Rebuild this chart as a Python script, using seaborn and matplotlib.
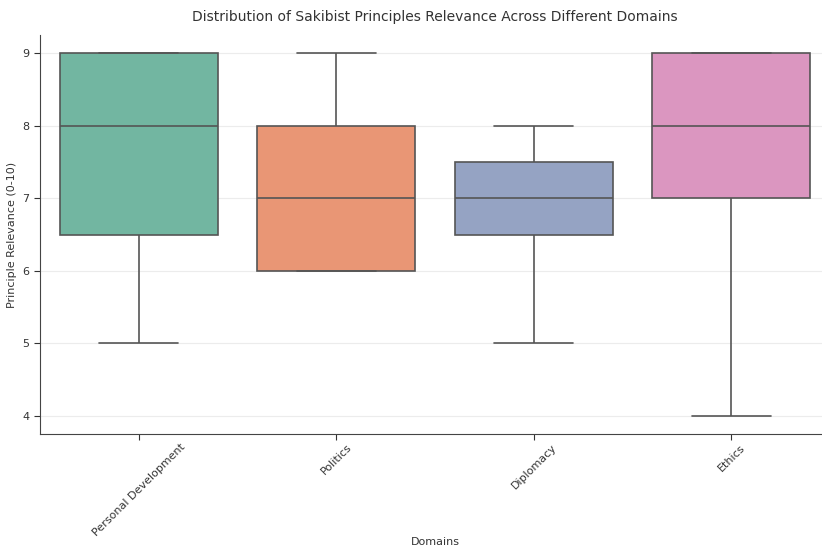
import numpy as np
import pandas as pd
import matplotlib
matplotlib.use("Agg")
import matplotlib.pyplot as plt
import seaborn as sns

domains = ["Personal Development", "Politics", "Diplomacy", "Ethics"]
personal_development = [5, 6, 7, 8, 9, 9, 9]
politics = [6, 6, 7, 8, 9]
diplomacy = [5, 6, 7, 7, 7, 8, 8]
ethics = [4, 7, 8, 9, 9]

series = [personal_development, politics, diplomacy, ethics]
df = pd.DataFrame({
    "Domains": [d for d, vals in zip(domains, series) for _ in vals],
    "Principle Relevance (0-10)": [v for vals in series for v in vals],
})

sns.set_style("ticks")
plt.rcParams["font.family"] = ["DejaVu Sans"]

fig = plt.figure(figsize=(8.22, 5.52), dpi=100)
ax = fig.add_axes([40 / 822, 1 - 434 / 552, 790 / 822, 399 / 552])

sns.boxplot(data=df, x="Domains", y="Principle Relevance (0-10)", hue="Domains",
            palette="Set2", legend=False, ax=ax, linecolor="#555555", linewidth=1.2)

ax.set_ylim(3.75, 9.25)
ax.set_xlim(-0.5, 3.5)
ax.yaxis.grid(True, color="#ececec", linewidth=0.8)
ax.set_axisbelow(True)
sns.despine(ax=ax)
for s in ["left", "bottom"]:
    ax.spines[s].set_color("#444444")
ax.tick_params(axis="both", labelsize=8, colors="#333333", length=4)
ax.tick_params(axis="x", pad=2)
plt.setp(ax.get_xticklabels(), rotation=45)
ax.set_title("Distribution of Sakibist Principles Relevance Across Different Domains",
             fontsize=10, color="#333333", pad=10)
ax.set_xlabel("Domains", fontsize=8, color="#333333")
ax.xaxis.set_label_coords(0.5, -(537 - 434) / 399, transform=ax.transAxes)
ax.set_ylabel("Principle Relevance (0-10)", fontsize=8, color="#333333")

fig.savefig("out.png", dpi=100)
